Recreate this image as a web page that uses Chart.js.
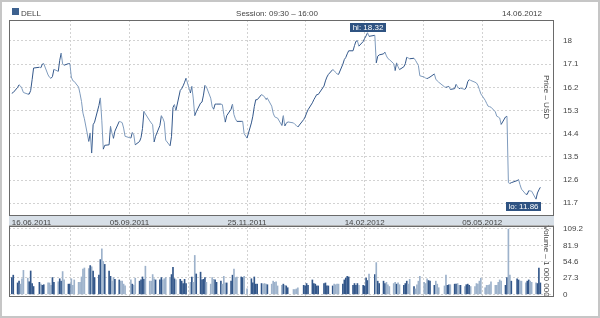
<!DOCTYPE html>
<html>
<head>
<meta charset="utf-8">
<script src="https://cdn.jsdelivr.net/npm/chart.js@4.4.1/dist/chart.umd.min.js"></script>
<style>
  body { margin: 0; background: #fff; }
  #wrap { position: relative; width: 600px; height: 318px; overflow: hidden; }
  #wrap canvas { position: absolute; left: 0; top: 0; }
  #frame { position: absolute; left: 0; top: 0; width: 600px; height: 318px; box-sizing: border-box; border: 2px solid #c6c6c6; pointer-events: none; }
</style>
</head>
<body>
<div id="wrap">
  <canvas id="priceChart" width="600" height="318"></canvas>
  <canvas id="volumeChart" width="600" height="318"></canvas>
  <div id="frame"></div>
</div>
<script>
// Texte
const ticker = 'DELL';
const sessionText = 'Session: 09:30 – 16:00';
const lastDateText = '14.06.2012';
const priceTitle = 'Price – USD';
const volumeTitle = 'Volume – 1 000 000';

// Jours de bourse
const firstDay = '2011-06-16';
const lastDay = '2012-06-14';
const holidays = ['2011-07-04', '2011-09-05', '2011-11-24', '2011-12-26', '2012-01-02',
  '2012-01-16', '2012-02-20', '2012-04-06', '2012-05-28'];

// Cours de clôture (USD)
const closes = [
  15.97, 16.00,
  16.20, 16.30, 16.25, 16.15, 16.00,
  15.94, 15.94, 16.08, 16.50, 16.95,
  16.98, 16.96, 17.10, 17.12,
  16.68, 16.59, 16.55, 16.62, 16.90,
  16.82, 17.25, 17.53, 17.11, 17.06,
  17.12, 17.12, 16.60, 16.46, 16.43,
  16.21, 15.95, 15.65, 15.20, 14.98,
  14.10, 14.43, 13.65, 14.75, 14.85,
  15.50, 15.79, 14.90, 13.80, 13.95,
  13.97, 14.69, 14.42, 14.22, 14.50,
  14.88, 14.86, 14.83, 14.62, 14.30,
  14.23, 14.45, 14.36, 13.97,
  14.10, 14.25, 14.60, 15.27, 15.17,
  14.90, 14.82, 14.75, 14.08, 14.30,
  14.72, 15.10, 15.00, 14.85, 14.15,
  13.93, 14.30, 15.42, 15.53, 15.30,
  16.08, 16.15, 16.26, 16.40, 16.56,
  15.98, 16.24, 15.75, 15.10, 15.25,
  15.59, 15.63, 15.90, 16.28, 16.22,
  15.78, 15.45, 15.35, 15.55, 15.55,
  15.55, 15.53, 15.15, 14.85, 15.10,
  15.35, 15.55, 15.14, 14.98, 14.88,
  14.88, 14.88, 14.40, 14.23,
  14.82, 15.08, 15.45, 15.72, 15.72,
  15.92, 15.88, 15.84, 15.73, 15.78,
  15.47, 15.20, 15.06, 15.03, 15.01,
  14.72, 15.10, 14.70, 14.80, 14.86,
  14.82, 14.76, 14.72, 14.66,
  14.95, 15.05, 15.20, 15.33,
  15.60, 15.72, 15.82, 15.92, 15.92,
  16.25, 16.45, 16.60, 16.70,
  16.89, 16.85, 16.78, 16.72, 16.70,
  17.10, 17.28, 17.36, 17.50, 17.62,
  17.62, 17.82, 17.99, 18.01, 17.80,
  17.98, 18.10, 18.20, 18.32, 18.18,
  18.22, 17.15, 17.41, 17.46,
  17.50, 17.57, 17.42, 17.32, 17.28,
  17.12, 16.85, 17.15, 17.00, 16.89,
  17.00, 17.12, 17.37, 17.34, 17.31,
  17.33, 17.25, 17.15, 17.05, 16.65,
  16.60, 16.56, 16.54, 16.57, 16.60,
  16.72, 16.52, 16.45, 16.40,
  16.22, 16.20, 16.22, 16.24, 16.12,
  16.15, 16.32, 16.22, 16.15, 16.17,
  16.12, 16.20, 16.42, 16.50, 16.47,
  16.40, 16.37, 16.28, 16.12, 15.95,
  15.70, 15.58, 15.47, 15.45, 15.43,
  15.25, 15.08, 15.05, 15.01, 14.76,
  15.05, 15.08, 12.50, 12.47, 12.50,
  12.58, 12.62, 12.42, 12.25,
  12.05, 12.05, 12.19, 12.18, 12.17,
  11.86, 12.10, 12.22, 12.32
];

// Volume (millions)
const volumes = [
  28, 32,
  19, 22, 17, 26, 40,
  27, 21, 39, 18, 13,
  20, 17, 15, 16,
  19, 19, 15, 28, 20,
  21, 26, 22, 38, 24,
  17, 17, 26, 15, 24,
  20, 20, 29, 42, 44,
  43, 48, 46, 39, 28,
  32, 58, 76, 55, 50,
  39, 30, 22, 28, 25,
  24, 22, 22, 17, 14,
  24, 17, 15, 27,
  22, 24, 29, 25, 47,
  22, 22, 33, 26, 24,
  24, 28, 24, 26, 28,
  28, 33, 45, 26, 24,
  25, 22, 18, 25, 18,
  20, 29, 20, 65, 34,
  37, 24, 25, 28, 20,
  17, 28, 25, 24, 20,
  22, 17, 30, 19, 19,
  22, 32, 42, 28, 29,
  29, 28, 30, 9,
  26, 19, 29, 17, 17,
  18, 17, 18, 17, 16,
  17, 22, 20, 21, 14,
  15, 17, 15, 14, 11,
  8, 8, 9, 11,
  15, 14, 18, 15,
  24, 18, 17, 14, 14,
  18, 19, 14, 14,
  14, 17, 16, 17, 17,
  17, 24, 27, 30, 29,
  15, 18, 15, 18, 15,
  15, 14, 27, 23, 34,
  33, 53, 22, 18,
  22, 18, 20, 16, 13,
  18, 20, 17, 19, 16,
  15, 18, 22, 17, 25,
  13, 9, 16, 22, 30,
  20, 18, 26, 23, 22,
  15, 22, 17, 11,
  14, 32, 15, 16, 16,
  17, 17, 18, 15, 15,
  13, 16, 17, 15, 13,
  13, 18, 17, 22, 27,
  11, 15, 15, 16, 21,
  15, 15, 20, 24, 22,
  15, 28, 109, 32, 22,
  26, 24, 22, 22,
  19, 22, 24, 22, 20,
  19, 18, 44, 19
];

// Axes
const dateLabels = ['16.06.2011', '05.09.2011', '25.11.2011', '14.02.2012', '05.05.2012'];
const priceTicks = [11.7, 12.6, 13.5, 14.4, 15.3, 16.2, 17.1, 18];
const volumeTicks = [0, 27.3, 54.6, 81.9, 109.2];

const DAY = 86400000;
const t0 = Date.parse(firstDay + 'T00:00:00Z');
const dayOf = iso => Math.round((Date.parse(iso + 'T00:00:00Z') - t0) / DAY);
const days = [];
for (let t = t0; t <= Date.parse(lastDay + 'T00:00:00Z'); t += DAY) {
  const d = new Date(t);
  const iso = d.toISOString().slice(0, 10);
  if (d.getUTCDay() === 0 || d.getUTCDay() === 6 || holidays.includes(iso)) continue;
  days.push((t - t0) / DAY);
}

const labelDays = dateLabels.map(s => dayOf(s.split('.').reverse().join('-')));
const gridDays = [];
labelDays.forEach((d, i) => {
  gridDays.push(d);
  const next = i < labelDays.length - 1 ? labelDays[i + 1] : d + (d - labelDays[i - 1]);
  gridDays.push((d + next) / 2);
});

const DARK = '#33578a';
const LIGHT = '#9db2cb';
const FAMILY = "'Liberation Sans', Arial, sans-serif";
const FONT = { family: FAMILY, size: 8 };
const FONT_CSS = '8px ' + FAMILY;
const GRID = '#d2d2d2';
const X_MIN = -1.93, X_MAX = 373.4;

const up = closes.map((c, i) => i === 0 || c >= closes[i - 1]);

function gridColor(ctx) {
  if (ctx.tick && (ctx.tick.value <= 0 || ctx.tick.value > labelDays[labelDays.length - 1])) return 'transparent';
  return GRID;
}

const panelFrame = {
  id: 'panelFrame',
  afterDraw(chart) {
    const { ctx, chartArea: a } = chart;
    ctx.save();
    ctx.strokeStyle = '#6a6a6a';
    ctx.lineWidth = 1;
    ctx.strokeRect(a.left + 0.5, a.top + 0.5, a.right - a.left - 1, a.bottom - a.top);
    ctx.restore();
  }
};

const priceDecor = {
  id: 'priceDecor',
  beforeDraw(chart) {
    const { ctx, chartArea: a } = chart;
    ctx.save();
    // bande des dates
    ctx.fillStyle = '#d7dfe7';
    ctx.fillRect(a.left, a.bottom, a.right - a.left, 11);
    ctx.fillStyle = '#8c8c8c';
    ctx.fillRect(a.left, a.bottom, a.right - a.left, 1);
    ctx.fillStyle = '#b4b4b4';
    ctx.fillRect(a.left, a.bottom + 10, a.right - a.left, 1);
    // en-tête
    ctx.font = FONT_CSS;
    ctx.fillStyle = '#3d618f';
    ctx.fillRect(12, 8, 7, 7);
    ctx.fillStyle = '#444';
    ctx.textBaseline = 'alphabetic';
    ctx.textAlign = 'left';
    ctx.fillText(ticker, 21, 15.5);
    ctx.textAlign = 'center';
    ctx.fillText(sessionText, 277, 15.5);
    ctx.textAlign = 'right';
    ctx.fillText(lastDateText, 542, 15.5);
    ctx.restore();
  },
  afterDatasetsDraw(chart) {
    const { ctx, chartArea: a, scales: { x, y } } = chart;
    ctx.save();
    ctx.font = FONT_CSS;
    // titre de l'axe
    ctx.fillStyle = '#444';
    ctx.translate(a.right - 8, a.top + 77);
    ctx.rotate(Math.PI / 2);
    ctx.textAlign = 'center';
    ctx.textBaseline = 'middle';
    ctx.fillText(priceTitle, 0, 0);
    ctx.restore();

    const hi = closes.indexOf(Math.max(...closes));
    const lo = closes.indexOf(Math.min(...closes));
    const tag = (text, px, py, where) => {
      ctx.save();
      ctx.font = FONT_CSS;
      const w = Math.round(ctx.measureText(text).width) + 5;
      const h = 9;
      let bx, by;
      if (where === 'hi') { bx = Math.round(px - w / 2); by = Math.round(py - h - 1); }
      else { bx = Math.round(px + 5 - w); by = Math.round(py + 3); }
      ctx.fillStyle = '#2f5382';
      ctx.fillRect(bx, by, w, h);
      ctx.fillStyle = '#fff';
      ctx.textAlign = 'center';
      ctx.textBaseline = 'middle';
      ctx.fillText(text, bx + w / 2, by + h / 2 + 0.5);
      ctx.restore();
    };
    tag('hi: ' + closes[hi].toFixed(2), x.getPixelForValue(days[hi]), y.getPixelForValue(closes[hi]), 'hi');
    tag('lo: ' + closes[lo].toFixed(2), x.getPixelForValue(days[lo]), y.getPixelForValue(closes[lo]), 'lo');
  }
};

const volumeDecor = {
  id: 'volumeDecor',
  afterDatasetsDraw(chart) {
    const { ctx, chartArea: a } = chart;
    ctx.save();
    ctx.font = FONT_CSS;
    ctx.fillStyle = '#444';
    ctx.translate(a.right - 8, (a.top + a.bottom) / 2);
    ctx.rotate(Math.PI / 2);
    ctx.textAlign = 'center';
    ctx.textBaseline = 'middle';
    ctx.fillText(volumeTitle, 0, 0);
    ctx.restore();
  }
};

const xGrid = {
  type: 'linear', min: X_MIN, max: X_MAX, offset: false,
  grid: { color: gridColor, drawTicks: false, offset: false, borderDash: [2, 2] },
  border: { display: false, dash: [2, 2] },
  afterBuildTicks: s => { s.ticks = gridDays.map(v => ({ value: v })); }
};

new Chart(document.getElementById('priceChart'), {
  type: 'line',
  data: {
    datasets: [{
      data: closes.map((c, i) => ({ x: days[i], y: c })),
      borderColor: DARK,
      borderWidth: 1,
      pointRadius: 0,
      tension: 0,
      segment: { borderColor: ctx => ctx.p1.parsed.y < ctx.p0.parsed.y ? '#7f9bbd' : DARK }
    }]
  },
  options: {
    responsive: false,
    devicePixelRatio: 1,
    animation: false,
    events: [],
    layout: { padding: { left: 9, top: 20, right: 0, bottom: 92 } },
    plugins: { legend: { display: false }, tooltip: { enabled: false } },
    scales: {
      x: Object.assign({}, xGrid, {
        afterFit: s => { s.height = 11; },
        ticks: {
          autoSkip: false, maxRotation: 0, align: 'inner', padding: 3, color: '#444', font: FONT,
          callback: v => { const i = labelDays.indexOf(v); return i >= 0 ? dateLabels[i] : ''; }
        }
      }),
      y: {
        position: 'right', min: 11.245, max: 18.815,
        afterFit: s => { s.width = 46; },
        afterBuildTicks: s => { s.ticks = priceTicks.map(v => ({ value: v })); },
        grid: { color: GRID, drawTicks: false, borderDash: [2, 2] },
        border: { display: false, dash: [2, 2] },
        ticks: { padding: 9, color: '#444', font: FONT, callback: v => String(v) }
      }
    }
  },
  plugins: [priceDecor, panelFrame]
});

new Chart(document.getElementById('volumeChart'), {
  type: 'bar',
  data: {
    datasets: [{
      data: volumes.map((v, i) => ({ x: days[i], y: v })),
      backgroundColor: up.map(u => u ? DARK : LIGHT),
      barThickness: 1
    }]
  },
  options: {
    responsive: false,
    devicePixelRatio: 1,
    animation: false,
    events: [],
    layout: { padding: { left: 9, top: 226, right: 0, bottom: 22 } },
    plugins: { legend: { display: false }, tooltip: { enabled: false } },
    scales: {
      x: Object.assign({}, xGrid, {
        afterFit: s => { s.height = 0; },
        ticks: { display: false }
      }),
      y: {
        position: 'right', min: -2.84, max: 114.2,
        afterFit: s => { s.width = 46; },
        afterBuildTicks: s => { s.ticks = volumeTicks.map(v => ({ value: v })); },
        grid: { color: GRID, drawTicks: false, borderDash: [2, 2] },
        border: { display: false, dash: [2, 2] },
        ticks: { padding: 9, color: '#444', font: FONT, callback: v => String(v) }
      }
    }
  },
  plugins: [volumeDecor, panelFrame]
});
</script>
</body>
</html>
